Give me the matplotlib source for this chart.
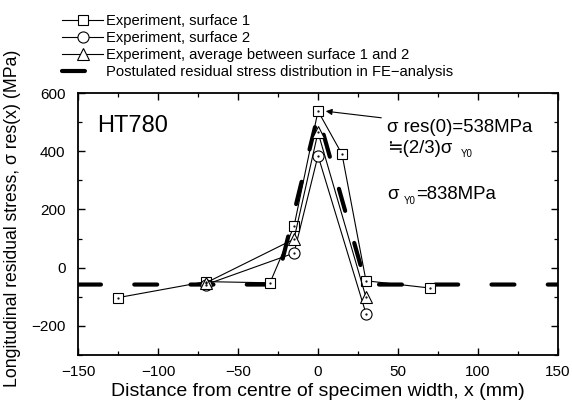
import matplotlib
matplotlib.use("Agg")
import matplotlib.pyplot as plt
import numpy as np

# ─── Data ─────────────────────────────────────────────────────────────────────

x_s1 = [-125, -70, -30, -15, 0, 15, 30, 70]
y_s1 = [-103, -48, -52, 142, 538, 390, -45, -70]

x_s2 = [-70, -15, 0, 30]
y_s2 = [-58, 50, 385, -158]

x_avg = [-70, -15, 0, 30]
y_avg = [-52, 98, 465, -102]

x_fe = [-150, -26, 0, 30, 150]
y_fe = [-58, -58, 525, -58, -58]

LABELS = ["Experiment, surface 1",
          "Experiment, surface 2",
          "Experiment, average between surface 1 and 2",
          "Postulated residual stress distribution in FE\u2212analysis"]

# ─── Style ────────────────────────────────────────────────────────────────────

plt.rcParams.update({
    "font.family": ["Liberation Sans", "Noto Sans CJK JP", "DejaVu Sans"],
    "xtick.direction": "in",
    "ytick.direction": "in",
    "xtick.top": True,
    "ytick.right": True,
    "axes.linewidth": 1.3,
})

fig = plt.figure(figsize=(5.72, 4.04), dpi=100)
ax = fig.add_axes([0.1364, 0.1213, 0.8391, 0.6485])

mk = dict(color="black", lw=0.8, mfc="white", mec="black", mew=0.8)
h1, = ax.plot(x_s1, y_s1, marker="s", ms=7, label=LABELS[0], zorder=3, **mk)
h2, = ax.plot(x_s2, y_s2, marker="o", ms=8, label=LABELS[1], zorder=3, **mk)
h3, = ax.plot(x_avg, y_avg, marker="^", ms=9, label=LABELS[2], zorder=3, **mk)
for xs, ys in [(x_s1, y_s1), (x_s2, y_s2), (x_avg, y_avg)]:
    ax.plot(xs, ys, ls="none", marker=".", ms=1.2, color="black", zorder=4)

h4, = ax.plot(x_fe, y_fe, color="black", lw=3.0, dashes=(5.5, 8.0),
              dash_capstyle="round", dash_joinstyle="round",
              label=LABELS[3], zorder=2)

ax.set_xlim(-150, 150)
ax.set_ylim(-300, 600)
ax.set_xticks(np.arange(-150, 151, 50))
ax.set_xticks(np.arange(-150, 151, 25), minor=True)
ax.set_yticks(np.arange(-200, 601, 200))
ax.set_yticks(np.arange(-300, 601, 100), minor=True)
ax.set_xticklabels(["\u2212150", "\u2212100", "\u221250", "0", "50", "100", "150"])
ax.set_yticklabels(["\u2212200", "0", "200", "400", "600"])
ax.tick_params(which="major", length=5, width=1.0, labelsize=11)
ax.tick_params(axis="x", which="major", pad=7)
ax.tick_params(axis="y", which="major", pad=9)
ax.tick_params(which="minor", length=3, width=0.9)

ax.set_xlabel("Distance from centre of specimen width, x (mm)", fontsize=14, labelpad=3)
ax.set_ylabel("Longitudinal residual stress, \u03c3 res(x) (MPa)", fontsize=12.7)
ax.yaxis.set_label_coords(-0.118, 0.52)

ax.text(-138, 487, "HT780", fontsize=17, va="center", ha="left")

ax.annotate("\u03c3 res(0)=538MPa", xy=(4, 538), xytext=(43, 483),
            fontsize=13.4, va="center", ha="left",
            arrowprops=dict(arrowstyle="-|>", color="black", lw=0.8,
                            mutation_scale=9, shrinkA=2, shrinkB=1))

t2 = ax.text(43, 411, "\u2252(2/3)\u03c3", fontsize=13.4, va="center", ha="left")
ax.annotate("Y0", xy=(1, 0), xycoords=t2, xytext=(6, -2),
            textcoords="offset points", fontsize=7, va="bottom", ha="left")

t3 = ax.text(43, 250, "\u03c3", fontsize=13.4, va="center", ha="left")
s3 = ax.annotate("Y0", xy=(1, 0), xycoords=t3, xytext=(4, -2),
                 textcoords="offset points", fontsize=7, va="bottom", ha="left")
ax.annotate("=838MPa", xy=(1, 0), xycoords=s3, xytext=(0, 2),
            textcoords="offset points", fontsize=13.4, va="bottom", ha="left")

fig.legend(handles=[h1, h2, h3, h4], loc="upper left",
           bbox_to_anchor=(0.093, 0.988), frameon=False, fontsize=10.6,
           handlelength=2.8, labelspacing=0.22, handletextpad=0.2,
           borderaxespad=0.2)

fig.savefig("out.png", dpi=100)
